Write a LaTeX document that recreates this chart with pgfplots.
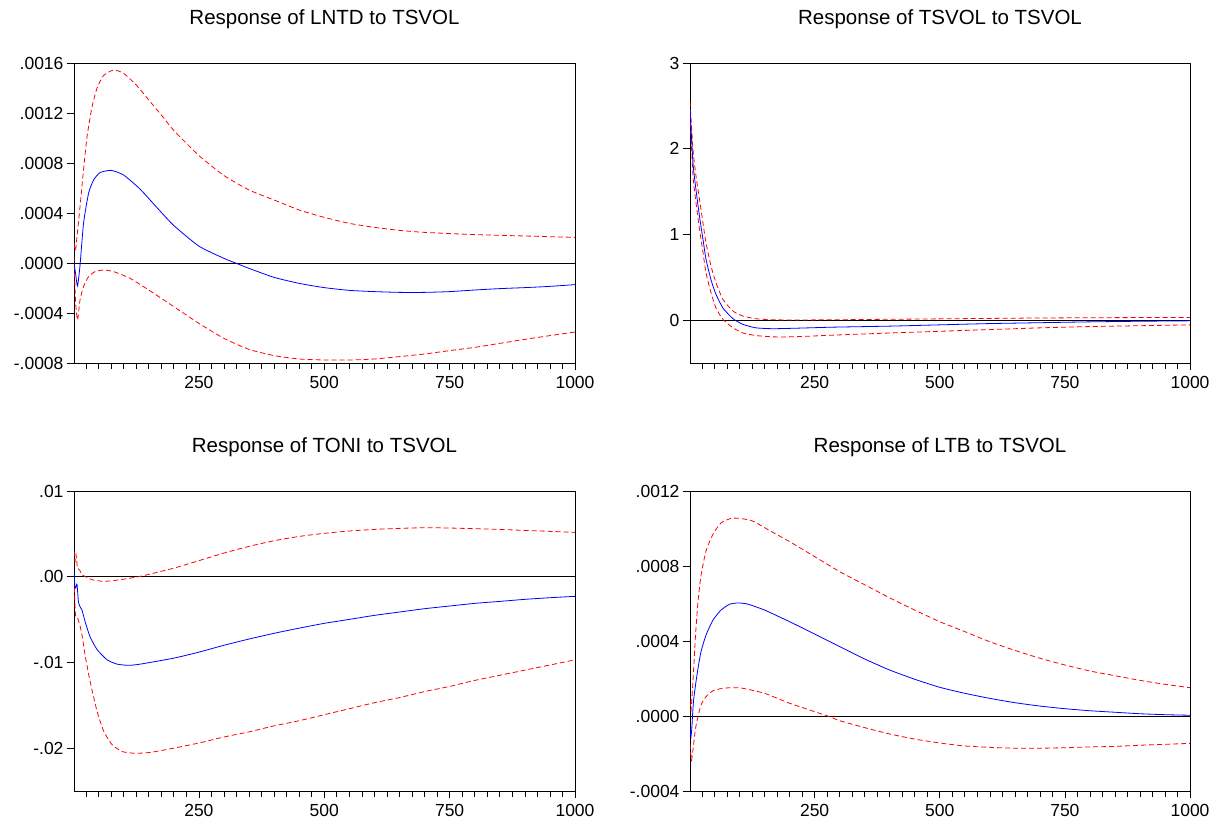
\documentclass[border=0pt]{standalone}
\usepackage{pgfplots}
\pgfplotsset{compat=1.18}
\usepackage{fontspec}
\setmainfont{Liberation Sans}
\pgfplotsset{
 irf/.style={scale only axis, width=501pt, height=300pt, xmin=1, xmax=1000,
  xtick={250,500,750,1000}, xticklabels={250,500,750,1000},
  minor xtick={25,50,...,975},
  xtick pos=bottom, ytick pos=left, tick align=outside,
  major tick length=7pt, minor tick length=6pt,
  tick style={black, line width=0.6pt}, axis line style={line width=0.8pt},
  scaled ticks=false,
  ticklabel style={font=\fontsize{17.5}{20}\selectfont},
  xticklabel style={yshift=-3pt},
  title style={font=\fontsize{20.5}{24}\selectfont, at={(0.5,1)}, anchor=base, yshift=32pt},
  clip=true},
 mid/.style={blue, line width=0.8pt, smooth, tension=0.35},
 band/.style={red, line width=0.8pt, dash pattern=on 5pt off 3pt, smooth, tension=0.35},
 zero/.style={black, line width=0.8pt},
}
\begin{document}
\begin{tikzpicture}
\useasboundingbox (0,0) rectangle (1224pt,825pt);
% Panel 1
\begin{axis}[irf, at={(74pt,462pt)}, anchor=south west,
  title={Response of LNTD to TSVOL},
  ymin=-0.0008, ymax=0.0016,
  ytick={-0.0008,-0.0004,0,0.0004,0.0008,0.0012,0.0016},
  yticklabels={-.0008,-.0004,.0000,.0004,.0008,.0012,.0016}]
\addplot[zero] coordinates {(1,0) (1000,0)};
\addplot[band] coordinates {(1,0.00016) (4,0.0001) (8,0.00025) (13,0.00045) (20,0.000744) (27,0.00101) (37,0.00125) (47,0.0014) (60,0.0015) (80,0.001544) (100,0.001517) (126,0.00142) (153,0.00129) (180,0.00116) (200,0.00106) (250,0.00086) (300,0.0007) (350,0.000584) (400,0.000504) (450,0.000424) (500,0.000365) (550,0.000317) (600,0.000285) (650,0.000261) (700,0.000245) (800,0.000227) (900,0.000216) (1000,0.000205)};
\addplot[band] coordinates {(1,0.00005) (4,-0.0003) (8,-0.000456) (13,-0.000296) (20,-0.000189) (30,-0.000109) (43,-0.000069) (60,-0.000056) (80,-0.000069) (113,-0.000123) (150,-0.000216) (200,-0.000349) (250,-0.000483) (300,-0.000603) (350,-0.000691) (400,-0.000741) (450,-0.000768) (500,-0.000776) (550,-0.000776) (600,-0.000768) (650,-0.000749) (700,-0.000728) (750,-0.000701) (800,-0.000675) (850,-0.000643) (900,-0.000611) (950,-0.000581) (1000,-0.000552)};
\addplot[mid] coordinates {(1,0) (4,-0.00008) (8,-0.000184) (13,-0.00002) (20,0.000317) (30,0.000557) (40,0.000664) (53,0.000723) (75,0.000741) (100,0.000704) (133,0.000590) (166,0.000445) (200,0.000300) (250,0.000135) (300,0.000037) (323,0) (350,-0.000043) (400,-0.000115) (450,-0.000163) (500,-0.000197) (550,-0.000219) (600,-0.000229) (650,-0.000235) (700,-0.000235) (750,-0.000229) (800,-0.000216) (850,-0.000205) (900,-0.000197) (950,-0.000187) (1000,-0.000173)};
\end{axis}
% Panel 2
\begin{axis}[irf, at={(690pt,462pt)}, anchor=south west, width=500pt,
  title={Response of TSVOL to TSVOL},
  ymin=-0.5, ymax=3,
  ytick={0,1,2,3}, yticklabels={0,1,2,3}]
\addplot[zero] coordinates {(1,0) (1000,0)};
\addplot[band] coordinates {(1,2.55) (7,1.99) (13,1.68) (20,1.41) (27,1.13) (33,0.90) (43,0.63) (53,0.435) (67,0.24) (87,0.105) (107,0.047) (133,0.016) (167,0.004) (220,0.002) (300,0.005) (400,0.01) (500,0.015) (600,0.02) (700,0.025) (800,0.028) (900,0.03) (1000,0.03)};
\addplot[band] coordinates {(1,2.4) (7,1.68) (13,1.37) (20,1.06) (27,0.79) (33,0.55) (43,0.32) (53,0.14) (67,0.008) (87,-0.09) (107,-0.15) (133,-0.18) (167,-0.195) (200,-0.195) (240,-0.187) (287,-0.175) (400,-0.15) (500,-0.13) (600,-0.11) (700,-0.09) (800,-0.075) (900,-0.065) (1000,-0.055)};
\addplot[mid] coordinates {(1,2.47) (7,1.83) (13,1.52) (20,1.21) (27,0.94) (33,0.71) (43,0.47) (53,0.30) (67,0.14) (87,0.016) (107,-0.05) (133,-0.09) (167,-0.10) (220,-0.093) (287,-0.082) (400,-0.07) (500,-0.055) (600,-0.04) (700,-0.03) (800,-0.02) (900,-0.013) (1000,-0.008)};
\end{axis}
% Panel 3
\begin{axis}[irf, at={(74pt,34pt)}, anchor=south west,
  title={Response of TONI to TSVOL},
  ymin=-0.025, ymax=0.01,
  ytick={-0.02,-0.01,0,0.01}, yticklabels={-.02,-.01,.00,.01}]
\addplot[zero] coordinates {(1,0) (1000,0)};
\addplot[band] coordinates {(1,0.003) (3,0.0018) (5,0.0026) (8,0.001) (12,0.0008) (17,0.0002) (23,0.00004) (37,-0.00035) (60,-0.00054) (87,-0.0004) (133,0.00004) (200,0.001) (250,0.00187) (300,0.00276) (350,0.00354) (400,0.0042) (450,0.0047) (500,0.00506) (550,0.00533) (600,0.00552) (650,0.00564) (700,0.00572) (750,0.00568) (800,0.0056) (850,0.00552) (900,0.0054) (950,0.00529) (1000,0.00517)};
\addplot[band] coordinates {(1,-0.0003) (4,-0.0045) (8,-0.0048) (12,-0.0055) (17,-0.0068) (23,-0.0091) (33,-0.0122) (47,-0.0157) (60,-0.018) (77,-0.0196) (97,-0.0204) (123,-0.0206) (153,-0.0205) (200,-0.02) (250,-0.0194) (300,-0.0187) (350,-0.0181) (400,-0.0174) (450,-0.0168) (500,-0.0161) (550,-0.0154) (600,-0.0147) (650,-0.0141) (700,-0.0134) (750,-0.0128) (800,-0.0121) (850,-0.0115) (900,-0.0109) (950,-0.0103) (1000,-0.0097)};
\addplot[mid] coordinates {(1,0.0006) (3,-0.0013) (5,-0.0012) (7,-0.0009) (10,-0.003) (14,-0.0036) (17,-0.0039) (23,-0.0052) (33,-0.007) (47,-0.0085) (67,-0.0097) (87,-0.0102) (110,-0.01034) (133,-0.0102) (200,-0.0095) (250,-0.0088) (300,-0.008) (350,-0.00727) (400,-0.0066) (450,-0.006) (500,-0.00544) (550,-0.00498) (600,-0.00451) (650,-0.00412) (700,-0.00373) (750,-0.00342) (800,-0.00311) (850,-0.00288) (900,-0.00264) (950,-0.00245) (1000,-0.00229)};
\end{axis}
% Panel 4
\begin{axis}[irf, at={(690pt,34pt)}, anchor=south west, width=500pt,
  title={Response of LTB to TSVOL},
  ymin=-0.0004, ymax=0.0012,
  ytick={-0.0004,0,0.0004,0.0008,0.0012}, yticklabels={-.0004,.0000,.0004,.0008,.0012}]
\addplot[zero] coordinates {(1,0) (1000,0)};
\addplot[band] coordinates {(1,0.00008) (3,0.00003) (5,0.0001) (8,0.000236) (12,0.00043) (17,0.00061) (23,0.00075) (33,0.00088) (47,0.00097) (63,0.00103) (83,0.001054) (100,0.001054) (126,0.00104) (166,0.00098) (200,0.00093) (250,0.00085) (300,0.00077) (350,0.0007) (400,0.00063) (450,0.000565) (500,0.000503) (550,0.00045) (600,0.000396) (650,0.00035) (700,0.000308) (750,0.000272) (800,0.00024) (850,0.000215) (900,0.00019) (950,0.000169) (1000,0.000151)};
\addplot[band] coordinates {(1,-0.00015) (4,-0.000236) (8,-0.000155) (12,-0.000066) (17,-0.000004) (23,0.000059) (33,0.000103) (47,0.000135) (67,0.000148) (87,0.000151) (106,0.000148) (150,0.000121) (200,0.000068) (250,0.000023) (276,0) (300,-0.000025) (350,-0.000062) (400,-0.000096) (450,-0.000123) (500,-0.000144) (550,-0.00016) (600,-0.000167) (650,-0.000172) (700,-0.000172) (750,-0.000169) (800,-0.000165) (850,-0.000162) (900,-0.000156) (950,-0.000151) (1000,-0.000146)};
\addplot[mid] coordinates {(1,-0.00006) (3,-0.00011) (5,-0.00005) (6,0.0) (8,0.00008) (12,0.000165) (17,0.000254) (23,0.000343) (33,0.000432) (47,0.000512) (63,0.000565) (80,0.000596) (97,0.000603) (116,0.000597) (150,0.000565) (200,0.000503) (250,0.000437) (300,0.00037) (350,0.000304) (400,0.000245) (450,0.000196) (500,0.000153) (550,0.000121) (600,0.000094) (650,0.000071) (700,0.000053) (750,0.000039) (800,0.000028) (850,0.00002) (900,0.000012) (950,0.000007) (1000,0.000004)};
\end{axis}
\end{tikzpicture}
\end{document}
